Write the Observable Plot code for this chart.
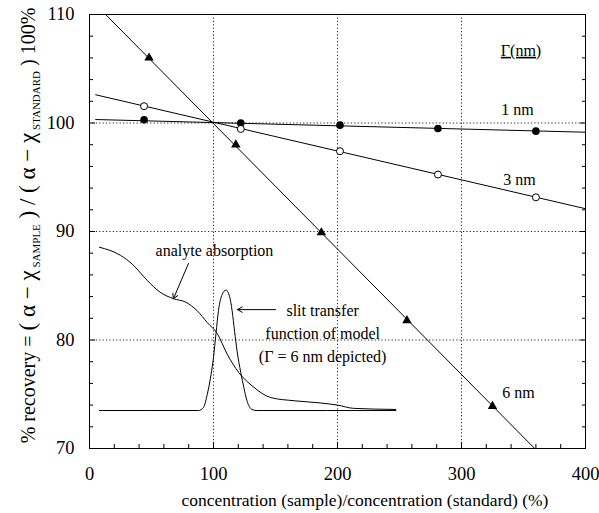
<!DOCTYPE html>
<html><head><meta charset="utf-8">
<script src="https://cdn.jsdelivr.net/npm/d3@7"></script>
<script src="https://cdn.jsdelivr.net/npm/@observablehq/plot@0.6"></script>
<style>html,body{margin:0;padding:0;background:#fff}</style>
</head><body><div id="chart"></div>
<script>
// ---- tick values ----
const xMajorTicks = [0, 100, 200, 300, 400];
const xMinorTicks = [20, 40, 60, 80, 120, 140, 160, 180, 220, 240, 260, 280, 320, 340, 360, 380];
const yMajorTicks = [70, 80, 90, 100, 110];
const yMinorTicks = [72, 74, 76, 78, 82, 84, 86, 88, 92, 94, 96, 98, 102, 104, 106, 108];
const xGridValues = [100, 200, 300];
const yGridValues = [80, 90, 100];

// ---- measured points ----
const x1nm = [44, 122, 202, 281, 360];
const y1nm = [100.3, 100.0, 99.8, 99.5, 99.25];
const x3nm = [44, 122, 202, 281, 360];
const y3nm = [101.55, 99.45, 97.4, 95.25, 93.15];
const x6nm = [48, 118, 187, 256, 325];
const y6nm = [106.0, 98.0, 89.9, 81.8, 73.9];

// ---- fitted lines (end points) ----
const fit1nmX = [5, 400];
const fit1nmY = [100.32, 99.15];
const fit3nmX = [5, 400];
const fit3nmY = [102.6, 92.1];
const fit6nmX = [13, 359];
const fit6nmY = [110, 70];

// ---- inset curves ----
const absorbX = [8, 25, 34.4, 46.5, 57, 68, 77.4, 86.8, 95, 103, 111, 120.4, 132.5, 146, 165, 186, 200, 213, 247];
const absorbY = [88.55, 87.8, 87.0, 85.5, 84.4, 83.8, 83.5, 82.7, 81.6, 80.6, 78.7, 77.0, 75.65, 74.7, 74.4, 74.2, 74.0, 73.7, 73.6];
const slitX = [8, 88, 92, 95, 98, 100, 102, 104, 107, 110, 113, 115, 117, 119, 122, 124.5, 127, 131, 135, 247];
const slitY = [73.5, 73.5, 73.8, 75.0, 76.8, 78.4, 80.6, 82.7, 84.2, 84.6, 84.0, 82.7, 80.8, 79.0, 77.0, 75.6, 74.4, 73.6, 73.5, 73.5];

// ---- annotations ----
const labelTexts = ["Γ(nm)", "1 nm", "3 nm", "6 nm", "analyte absorption", "slit transfer\nfunction of model\n(Γ = 6 nm depicted)"];
const labelX = [348, 345.2, 346.8, 346, 100.8, 188];
const labelY = [106.87, 101.43, 94.98, 75.35, 88.43, 80.78];
const arrowX1 = [79.8, 150];
const arrowY1 = [87.05, 82.8];
const arrowX2 = [67.7, 119.4];
const arrowY2 = [83.8, 82.8];

const xTitle = "concentration (sample)/concentration (standard) (%)";

const pts = (xs, ys) => xs.map((x, i) => ({x, y: ys[i]}));
const labels = labelTexts.map((t, i) => ({t, x: labelX[i], y: labelY[i]}));
const arrows = arrowX1.map((x1, i) => ({x1, y1: arrowY1[i], x2: arrowX2[i], y2: arrowY2[i]}));

const SERIF = "Liberation Serif";
const gridStyle = {stroke: "#000", strokeOpacity: 0.85, strokeDasharray: "1.2,2.2", strokeWidth: 1};

const chart = Plot.plot({
  width: 599, height: 513,
  marginLeft: 89, marginRight: 14, marginTop: 14, marginBottom: 65,
  x: {domain: [0, 400], label: null},
  y: {domain: [70, 110], label: null},
  marks: [
    Plot.gridX(xGridValues, gridStyle),
    Plot.gridY(yGridValues, gridStyle),
    Plot.line(pts(absorbX, absorbY), {x: "x", y: "y", curve: "monotone-x", stroke: "#000", strokeWidth: 1}),
    Plot.line(pts(slitX, slitY), {x: "x", y: "y", curve: "monotone-x", stroke: "#000", strokeWidth: 1}),
    Plot.line(pts(fit1nmX, fit1nmY), {x: "x", y: "y", stroke: "#000", strokeWidth: 1}),
    Plot.line(pts(fit3nmX, fit3nmY), {x: "x", y: "y", stroke: "#000", strokeWidth: 1}),
    Plot.line(pts(fit6nmX, fit6nmY), {x: "x", y: "y", stroke: "#000", strokeWidth: 1}),
    Plot.dot(pts(x1nm, y1nm), {x: "x", y: "y", r: 3.8, fill: "#000", stroke: "none"}),
    Plot.dot(pts(x3nm, y3nm), {x: "x", y: "y", r: 3.5, fill: "#fff", stroke: "#000", strokeWidth: 1}),
    Plot.dot(pts(x6nm, y6nm), {x: "x", y: "y", symbol: "triangle", r: 3.5, fill: "#000", stroke: "none"}),
    Plot.arrow(arrows, {x1: "x1", y1: "y1", x2: "x2", y2: "y2", headLength: 8, stroke: "#000", strokeWidth: 1}),
    Plot.text(labels, {x: "x", y: "y", text: "t", fontSize: 16, fontFamily: SERIF, fill: "#000", lineHeight: 1.44}),
    Plot.frame({stroke: "#000", strokeWidth: 1}),
    Plot.axisX({ticks: xMinorTicks, tickSize: -4, tickFormat: () => "", label: null}),
    Plot.axisX({ticks: xMajorTicks, tickSize: -6, tickFormat: () => "", label: null}),
    Plot.axisX({ticks: xMajorTicks, tickSize: 0, tickPadding: 18, label: null, fontSize: 18.5, fontFamily: SERIF, fill: "#000"}),
    Plot.axisY({ticks: yMinorTicks, tickSize: -4, tickFormat: () => "", label: null}),
    Plot.axisY({ticks: yMajorTicks, tickSize: -6, tickFormat: () => "", label: null}),
    Plot.axisY({ticks: yMajorTicks, tickSize: 0, tickPadding: 15, label: null, fontSize: 18.5, fontFamily: SERIF, fill: "#000"}),
    Plot.axisY({anchor: "right", ticks: yMinorTicks, tickSize: -4, tickFormat: () => "", label: null}),
    Plot.axisY({anchor: "right", ticks: yMajorTicks, tickSize: -6, tickFormat: () => "", label: null})
  ]
});
document.getElementById("chart").append(chart);

const svg = d3.select(chart);
svg.selectAll("text").filter(function() { return this.textContent === "Γ(nm)"; })
  .attr("text-decoration", "underline");

// x-axis title
svg.append("text")
  .attr("x", 365).attr("y", 506)
  .attr("text-anchor", "middle")
  .attr("font-family", SERIF).attr("font-size", 17.5).attr("fill", "#000")
  .text(xTitle);

// y-axis title with subscripts
const yt = svg.append("text")
  .attr("transform", "translate(35,225.5) rotate(-90)")
  .attr("text-anchor", "middle")
  .attr("font-family", SERIF).attr("font-size", 20).attr("fill", "#000");
yt.append("tspan").text("% recovery = ");
yt.append("tspan").attr("font-size", 23).text("( α − χ");
yt.append("tspan").attr("font-size", 11).attr("dy", 5).text(" SAMPLE");
yt.append("tspan").attr("font-size", 23).attr("dy", -5).text(" ) / ( α − χ");
yt.append("tspan").attr("font-size", 11).attr("dy", 5).text(" STANDARD");
yt.append("tspan").attr("dy", -5).text(" ) 100%");
</script></body></html>
